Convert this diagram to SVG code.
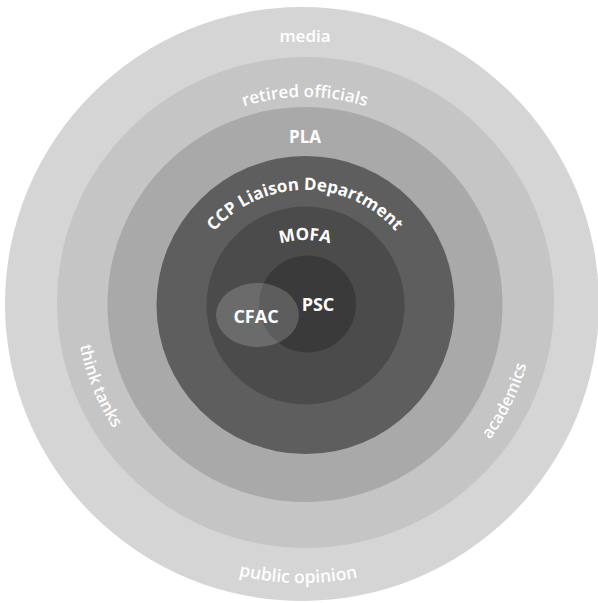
<svg xmlns="http://www.w3.org/2000/svg" width="598" height="603" viewBox="0 0 598 603">
  <style>
    .lbl { font-family: "Open Sans", "Liberation Sans", sans-serif; font-weight: 600; fill: #ffffff; }
    .lb { font-family: "Open Sans", "Liberation Sans", sans-serif; font-weight: 700; fill: #ffffff; }
  </style>
  <defs>
    <path id="p-retired" d="M 102 300 A 203 203 0 0 1 508 300"/>
    <path id="p-ccp" d="M 185 310 A 120 120 0 0 1 425 310"/>
    <path id="p-mofa" d="M 215 330 A 90 90 0 0 1 395 330"/>
    <path id="p-think" d="M 87.2 232.2 A 229 229 0 0 0 197.5 505.2"/>
    <path id="p-acad" d="M 398.5 513.1 A 230 230 0 0 0 528.2 247.4"/>
    <path id="p-public" d="M 120 514.6 A 279 279 0 0 0 478.6 520.8"/>
  </defs>
  <rect width="598" height="603" fill="#ffffff"/>
  <g id="ring-outer">
    <circle cx="302" cy="304" r="297" fill="#d5d5d5"/>
    <text class="lbl" font-size="17" x="305" y="42" text-anchor="middle">media</text>
    <text class="lbl" font-size="17.5"><textPath href="#p-public" startOffset="50%" text-anchor="middle">public opinion</textPath></text>
  </g>
  <g id="ring-second">
    <ellipse cx="305.5" cy="302.5" rx="248.5" ry="245.5" fill="#c5c5c5"/>
    <text class="lbl" font-size="17"><textPath href="#p-retired" startOffset="50%" text-anchor="middle">retired officials</textPath></text>
    <text class="lbl" font-size="16.5"><textPath href="#p-think" startOffset="50%" text-anchor="middle">think tanks</textPath></text>
    <text class="lbl" font-size="16.5"><textPath href="#p-acad" startOffset="50%" text-anchor="middle">academics</textPath></text>
  </g>
  <g id="ring-pla">
    <circle cx="305" cy="304.5" r="197.5" fill="#a9a9a9"/>
    <text class="lb" font-size="17" x="305" y="143" text-anchor="middle">PLA</text>
  </g>
  <g id="ring-ccp">
    <circle cx="305.5" cy="305" r="149" fill="#5e5e5e"/>
    <text class="lb" font-size="17"><textPath href="#p-ccp" startOffset="50%" text-anchor="middle">CCP Liaison Department</textPath></text>
  </g>
  <g id="ring-mofa">
    <circle cx="305.5" cy="305.5" r="99" fill="#4b4b4b"/>
    <text class="lb" font-size="17"><textPath href="#p-mofa" startOffset="50%" text-anchor="middle">MOFA</textPath></text>
  </g>
  <g id="node-psc">
    <circle cx="307.5" cy="304" r="48.5" fill="#3a3a3a"/>
    <text class="lb" font-size="18" x="318" y="311" text-anchor="middle">PSC</text>
  </g>
  <g id="node-cfac">
    <ellipse cx="257.5" cy="315" rx="41.5" ry="32" fill="#ffffff" fill-opacity="0.18"/>
    <text class="lb" font-size="18" x="256" y="323" text-anchor="middle">CFAC</text>
  </g>
  <g id="connectors"/>
</svg>
